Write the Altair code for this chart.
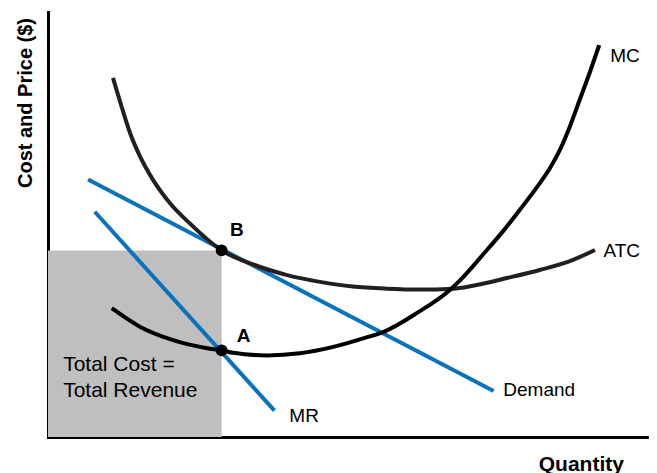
import altair as alt
import pandas as pd

# ---- data (quantity / price units) ----
demand_q = [6.6, 73.4]
demand_p = [60.6, 10.8]

mr_q = [7.7, 37.3]
mr_p = [53.0, 6.2]

atc_q = [10.7, 12.0, 13.5, 15.2, 17.3, 20.1, 23.4, 28.6, 33.8, 39.4, 44.8, 50.2,
         55.8, 61.3, 66.7, 70.0, 75.6, 81.0, 86.5, 90.1]
atc_p = [84.5, 78.3, 71.6, 65.9, 60.5, 55.0, 50.2, 43.9, 40.6, 38.1, 36.5, 35.4,
         34.9, 34.7, 34.9, 35.6, 37.4, 39.3, 41.7, 44.0]

mc_q = [10.5, 15.2, 20.6, 26.2, 28.6, 30.5, 36.1, 41.5, 47.0, 52.6, 55.2, 60.8,
        66.2, 67.9, 71.7, 75.0, 77.8, 80.6, 82.7, 84.4, 86.0, 87.6, 89.3, 90.8]
mc_p = [30.3, 25.9, 22.8, 20.9, 20.4, 19.8, 19.2, 19.7, 21.2, 23.5, 24.7, 29.2,
        34.6, 36.9, 43.0, 48.5, 53.6, 58.9, 63.3, 67.8, 73.2, 79.4, 86.0, 92.2]

point_names = ["A", "B"]
point_q = [28.6, 28.6]
point_p = [20.4, 43.9]

rect_q = [0, 28.6]
rect_p = [0, 43.9]

label_text = ["MC", "ATC", "Demand", "MR", "Total Cost =", "Total Revenue"]
label_q = [92.6, 91.5, 75.0, 39.75, 2.5, 2.5]
label_p = [88.3, 42.4, 9.65, 3.46, 15.5, 9.5]
label_size = [19, 19, 19, 19, 21, 21]

bold_text = ["A", "B"]
bold_q = [31.1, 30.0]
bold_p = [22.4, 47.4]

FONT = "Liberation Sans"

# ---- tables ----
lines_blue = pd.DataFrame({
    "q": demand_q + mr_q,
    "p": demand_p + mr_p,
    "series": ["Demand"] * len(demand_q) + ["MR"] * len(mr_q),
})
lines_black = pd.DataFrame({
    "q": atc_q + mc_q,
    "p": atc_p + mc_p,
    "series": ["ATC"] * len(atc_q) + ["MC"] * len(mc_q),
})
points = pd.DataFrame({"name": point_names, "q": point_q, "p": point_p})
rect = pd.DataFrame({"q": [rect_q[0]], "q2": [rect_q[1]], "p": [rect_p[0]], "p2": [rect_p[1]]})
labels = pd.DataFrame({"label": label_text, "q": label_q, "p": label_p, "size": label_size})
bold_labels = pd.DataFrame({"label": bold_text, "q": bold_q, "p": bold_p})

xs = alt.Scale(domain=[0, 99], nice=False, zero=False)
ys = alt.Scale(domain=[0, 100], nice=False, zero=False)

xaxis = alt.Axis(title="Quantity", labels=False, ticks=False, grid=False,
                 domainColor="black", domainWidth=3, domainCap="square",
                 titleFont=FONT, titleFontSize=21, titleFontWeight="bold", titleColor="black",
                 titleX=532.8, titleY=33, titleAlign="center", titleBaseline="alphabetic")
yaxis = alt.Axis(title="Cost and Price ($)", labels=False, ticks=False, grid=False,
                 domainColor="black", domainWidth=3, domainCap="square",
                 titleFont=FONT, titleFontSize=20, titleFontWeight="bold", titleColor="black",
                 titleAngle=270, titleX=-16.5, titleY=90.5, titleAlign="center",
                 titleBaseline="alphabetic")

X = alt.X("q:Q", scale=xs, axis=xaxis)
Y = alt.Y("p:Q", scale=ys, axis=yaxis)

color_scale = alt.Scale(domain=["Demand", "MR", "ATC", "MC"],
                        range=["#0b72bd", "#0b72bd", "#231f20", "#000000"])

rect_layer = alt.Chart(rect).mark_rect(color="#bfbfbf").encode(
    x=X, x2="q2:Q", y=Y, y2="p2:Q")

blue_layer = alt.Chart(lines_blue).mark_line(strokeWidth=4, strokeCap="butt").encode(
    x=X, y=Y, color=alt.Color("series:N", legend=None, scale=color_scale))

black_layer = alt.Chart(lines_black).mark_line(strokeWidth=4, strokeCap="butt",
                                               interpolate="monotone").encode(
    x=X, y=Y, color=alt.Color("series:N", legend=None, scale=color_scale))

point_layer = alt.Chart(points).mark_circle(size=140, color="black", opacity=1).encode(
    x=X, y=Y)

label_layer = alt.Chart(labels).mark_text(font=FONT, align="left", baseline="alphabetic",
                                          color="black").encode(
    x=X, y=Y, text="label:N", size=alt.Size("size:Q", scale=None, legend=None))

bold_layer = alt.Chart(bold_labels).mark_text(font=FONT, fontSize=19, fontWeight="bold",
                                              align="left", baseline="alphabetic",
                                              color="black").encode(
    x=X, y=Y, text="label:N")

chart = alt.layer(rect_layer, blue_layer, black_layer, point_layer, label_layer, bold_layer).properties(
    width=601, height=425,
    padding={"left": 40, "top": 4, "right": 0, "bottom": 40},
    autosize=alt.AutoSizeParams(type="none"),
).configure_view(stroke=None)

chart.save("out.html", embed_options={"renderer": "svg", "actions": False})
